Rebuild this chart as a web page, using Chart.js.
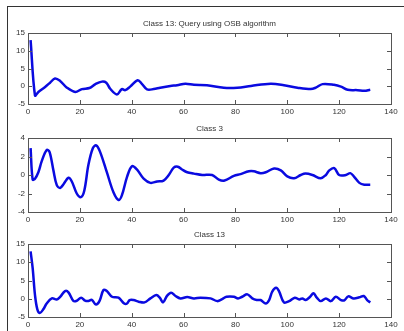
<!DOCTYPE html>
<html>
<head>
<meta charset="utf-8">
<script src="https://cdn.jsdelivr.net/npm/chart.js@4.4.1/dist/chart.umd.min.js"></script>
<style>
  html, body { margin: 0; padding: 0; background: #fff; }
  #page { position: relative; width: 404px; height: 331px; overflow: hidden; }
  #frame { position: absolute; left: 7px; top: 6px; right: 0; bottom: 0;
           border-left: 1px solid #333; border-top: 1px solid #333; }
  canvas { position: absolute; left: 0; }
</style>
</head>
<body>
<div id="page">
  <div id="frame"></div>
  <canvas id="c1" width="404" height="106" style="top:13px"></canvas>
  <canvas id="c2" width="404" height="109" style="top:118px"></canvas>
  <canvas id="c3" width="404" height="108" style="top:224px"></canvas>
</div>
<script>
// titles
const titles = ["Class 13: Query using OSB algorithm", "Class 3", "Class 13"];

// x ticks shared by all panels
const xTicks = [0, 20, 40, 60, 80, 100, 120, 140];
const yTicks1 = [-5, 0, 5, 10, 15];
const yTicks2 = [-4, -2, 0, 2, 4];
const yTicks3 = [-5, 0, 5, 10, 15];

// panel 1: query
const xs1 = [1, 2.7, 4, 6.6, 8.5, 10.4, 12.4, 15, 18.2, 20.8, 23.7, 26, 28.5, 30.2, 31.7, 34.3, 36.2, 37.5,
  39.4, 42.3, 44, 45.9, 48.5, 51, 54.9, 57.5, 60.7, 64, 69, 75.5, 80.7, 86, 93.6, 98.7, 103.9, 109, 111,
  113.6, 118, 120.7, 123.3, 127.1, 129.7, 132];
const ys1 = [13, -2.6, -1.6, -0.2, 1, 2.2, 1.5, -0.4, -1.6, -0.8, -0.5, 0.6, 1.3, 1, -0.7, -2.3, -0.8, -1.1,
  -0.1, 1.7, 0.6, -0.9, -0.8, -0.4, 0.1, 0.3, 0.7, 0.4, 0.3, -0.4, -0.4, 0.1, 0.7, 0.3, -0.4, -0.8, -0.4,
  0.6, 0.4, -0.1, -1, -1.1, -1.3, -1.0];

// panel 2: class 3
const xs2 = [1, 1.8, 2.7, 4, 5.3, 7.2, 8.3, 9.8, 11.1, 12.4, 13.7, 15.6, 16.9, 18.8, 20.4, 21.7, 23.3, 25,
  26.3, 27.8, 30.4, 33, 34.9, 36.2, 38.2, 40.1, 42, 44.6, 47.2, 49.8, 52.3, 54.3, 56.2, 57.8, 59.4, 61.4,
  64, 67.2, 71, 73.6, 75.8, 79.4, 82, 85.2, 87.1, 89.7, 91.7, 94.9, 97.5, 100, 102.6, 105.2, 107, 109.7,
  112.9, 114.9, 116.2, 118.1, 120, 122.6, 124.3, 125.8, 127.8, 129.7, 132];
const ys2 = [2.9, -0.5, -0.4, 0.3, 1.5, 2.7, 2.5, 0.5, -1.1, -1.4, -1, -0.3, -0.7, -2, -2.4, -1.7, 1.1, 2.9,
  3.2, 2.5, 0.3, -1.9, -2.7, -2.2, -0.2, 0.95, 0.6, -0.4, -0.85, -0.7, -0.6, 0, 0.8, 0.9, 0.6, 0.3,
  0.15, 0, 0, -0.5, -0.6, -0.1, 0.1, 0.4, 0.4, 0.2, 0.3, 0.7, 0.5, -0.15, -0.35, 0, 0.15, 0,
  -0.35, 0, 0.5, 0.75, 0, 0, 0.2, -0.2, -0.85, -1.05, -1.05];

// panel 3: class 13
const xs3 = [1, 1.8, 2.7, 3.6, 4.6, 5.9, 7.2, 9.2, 11.1, 12.4, 14.3, 15.6, 17.5, 18.8, 20.5, 22, 23.3, 24.6,
  26.2, 27.6, 29.1, 30.4, 32.4, 34.9, 37.1, 38.2, 39.2, 40.7, 42.7, 44.9, 47.2, 49.5, 50.8, 52.1, 53.6,
  55.2, 56.9, 58.8, 61.4, 64, 66.5, 70.4, 73, 74.9, 76.6, 79.4, 81, 82.6, 84.6, 86.5, 88.2, 89.7, 91.7,
  93, 94.2, 95.7, 96.8, 98.7, 100.7, 102.9, 104.6, 105.8, 107.1, 108.8, 110.1, 111.4, 112.9, 114.9,
  116.8, 118.7, 120.7, 122, 123.5, 125.6, 127.8, 129.5, 130.8, 132];
const ys3 = [13, 8.4, 1, -2.9, -3.9, -2.9, -1.3, 0.1, -0.2, 0.5, 2.1, 1.75, -0.6, -0.55, 0.3, -0.5, -0.6, -0.3,
  -1.6, -0.6, 2.4, 2.1, 0.55, 0.3, -1.3, -1.3, -0.35, -0.35, -0.8, -1, 0.1, 1, 0.3, -1, 0.8,
  1.65, 0.75, 0.1, 0.45, 0.1, 0.3, 0.1, -0.65, -0.1, 0.55, 0.55, 0.1, 0.55, 1.2, 0.1, -0.35, -0.35, -1.3,
  -0.35, 1.95, 3.0, 2.1, -1, -0.65, 0.3, -0.2, 0.1, -0.35, 0.55, 1.5, 0.3, -0.65, 0.1,
  -0.65, 0.55, -0.35, -0.45, 0.65, 0.1, 0.4, 0.75, -0.35, -1];

const FONT = "'Liberation Sans', Arial, Helvetica, sans-serif";
const AXIS_COLOR = "#555";
const TEXT_COLOR = "#333";

// box round the plot area with inward ticks on all four sides, plus title
const matlabAxes = {
    id: "matlabAxes",
    afterDraw(chart, args, opts) {
        const ctx = chart.ctx;
        const a = chart.chartArea;
        const xs = chart.scales.x;
        const ys = chart.scales.y;
        const len = 4;
        ctx.save();
        ctx.strokeStyle = AXIS_COLOR;
        ctx.lineWidth = 1;
        ctx.strokeRect(Math.round(a.left) + 0.5, Math.round(a.top) + 0.5,
            Math.round(a.right - a.left), Math.round(a.bottom - a.top));
        ctx.beginPath();
        xs.ticks.forEach(t => {
            const px = Math.round(xs.getPixelForValue(t.value)) + 0.5;
            ctx.moveTo(px, a.bottom);
            ctx.lineTo(px, a.bottom - len);
            ctx.moveTo(px, a.top);
            ctx.lineTo(px, a.top + len);
        });
        ys.ticks.forEach(t => {
            const py = Math.round(ys.getPixelForValue(t.value)) + 0.5;
            ctx.moveTo(a.left, py);
            ctx.lineTo(a.left + len, py);
            ctx.moveTo(a.right, py);
            ctx.lineTo(a.right - len, py);
        });
        ctx.stroke();
        ctx.fillStyle = TEXT_COLOR;
        ctx.font = "8px " + FONT;
        ctx.textAlign = "center";
        ctx.textBaseline = "middle";
        ctx.fillText(opts.title, (a.left + a.right) / 2, a.top - 9);
        ctx.restore();
    }
};

function makePanel(id, title, xsData, ysData, yTicks) {
    const points = xsData.map((x, i) => ({ x: x, y: ysData[i] }));
    new Chart(document.getElementById(id), {
        type: "line",
        data: {
            datasets: [{
                data: points,
                borderColor: "#0a0ae0",
                borderWidth: 2.5,
                pointRadius: 0,
                tension: 0.35,
                fill: false,
            }]
        },
        options: {
            responsive: false,
            animation: false,
            devicePixelRatio: 1,
            layout: { padding: { top: 20, right: 13, left: 0, bottom: 0 } },
            plugins: {
                legend: { display: false },
                tooltip: { enabled: false },
                matlabAxes: { title: title },
            },
            scales: {
                x: {
                    type: "linear",
                    min: xTicks[0],
                    max: xTicks[xTicks.length - 1],
                    afterBuildTicks: s => { s.ticks = xTicks.map(v => ({ value: v })); },
                    afterFit: s => { s.height = 15; },
                    grid: { display: false, drawTicks: false },
                    border: { display: false },
                    ticks: { color: TEXT_COLOR, font: { size: 8, family: FONT }, padding: 3, maxRotation: 0 },
                },
                y: {
                    type: "linear",
                    min: yTicks[0],
                    max: yTicks[yTicks.length - 1],
                    afterBuildTicks: s => { s.ticks = yTicks.map(v => ({ value: v })); },
                    afterFit: s => { s.width = 28; },
                    grid: { display: false, drawTicks: false },
                    border: { display: false },
                    ticks: { color: TEXT_COLOR, font: { size: 8, family: FONT }, padding: 3 },
                }
            }
        },
        plugins: [matlabAxes]
    });
}

makePanel("c1", titles[0], xs1, ys1, yTicks1);
makePanel("c2", titles[1], xs2, ys2, yTicks2);
makePanel("c3", titles[2], xs3, ys3, yTicks3);
</script>
</body>
</html>
